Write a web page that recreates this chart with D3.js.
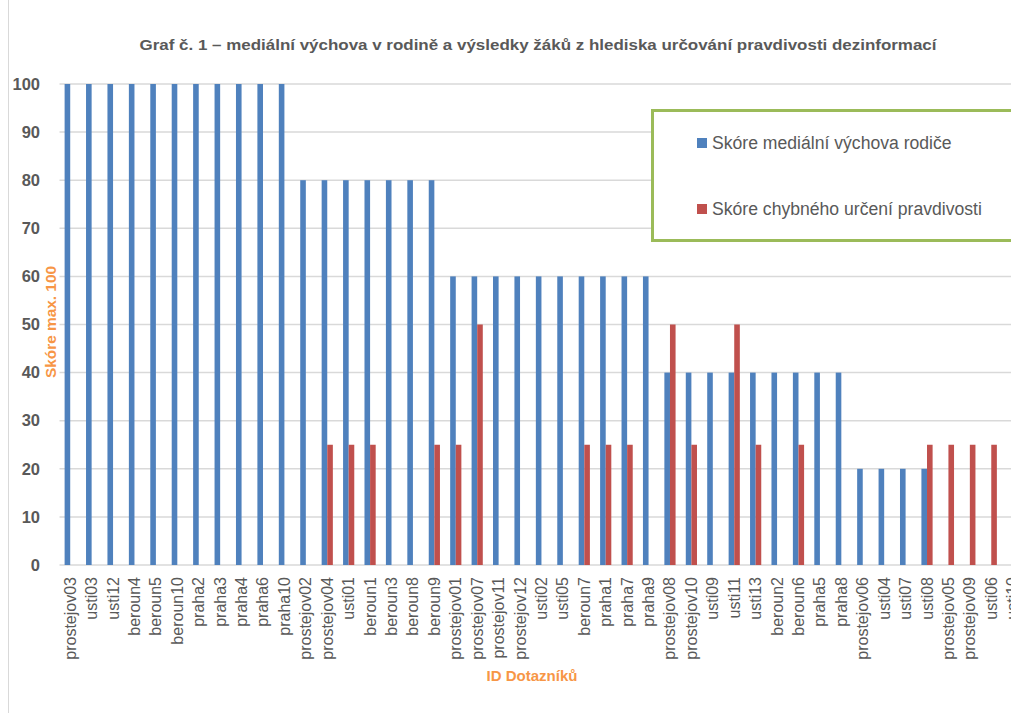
<!DOCTYPE html>
<html><head><meta charset="utf-8">
<script src="https://cdn.jsdelivr.net/npm/d3@7"></script>
<style>
html,body{margin:0;padding:0;background:#fff;}
svg{display:block;font-family:"Liberation Sans",Arial,sans-serif;}
</style></head>
<body>
<svg id="chart" width="1011" height="713"></svg>
<script>
const categories = ["prostejov03","usti03","usti12","beroun4","beroun5","beroun10","praha2","praha3","praha4","praha6","praha10","prostejov02","prostejov04","usti01","beroun1","beroun3","beroun8","beroun9","prostejov01","prostejov07","prostejov11","prostejov12","usti02","usti05","beroun7","praha1","praha7","praha9","prostejov08","prostejov10","usti09","usti11","usti13","beroun2","beroun6","praha5","praha8","prostejov06","usti04","usti07","usti08","prostejov05","prostejov09","usti06","usti10"];
const parentScores = [100,100,100,100,100,100,100,100,100,100,100,80,80,80,80,80,80,80,60,60,60,60,60,60,60,60,60,60,40,40,40,40,40,40,40,40,40,20,20,20,20,0,0,0,0];
const errorScores  = [0,0,0,0,0,0,0,0,0,0,0,0,25,25,25,0,0,25,25,50,0,0,0,0,25,25,25,0,50,25,0,50,25,0,25,0,0,0,0,0,25,25,25,25,25];
const seriesNames = ["Skóre mediální výchova rodiče","Skóre chybného určení pravdivosti"];
const yTicks = [0,10,20,30,40,50,60,70,80,90,100];
const titleText = "Graf č. 1 – mediální výchova v rodině a výsledky žáků z hlediska určování pravdivosti dezinformací";
const yTitle = "Skóre max. 100";
const xTitle = "ID Dotazníků";
const colors = ["#4F81BD","#C0504D"];

const svg = d3.select("#chart");
const plotLeft = 59.5, band = 21.42, plotTop = 84, plotBottom = 565;
const x0 = d3.scaleBand().domain(categories).range([plotLeft, plotLeft + band*categories.length]).padding(0);
const gw = 11.2;
const x1 = d3.scaleBand().domain([0,1]).range([(x0.bandwidth()-gw)/2,(x0.bandwidth()+gw)/2]);
const y = d3.scaleLinear().domain([0,100]).range([plotBottom, plotTop]);

// chart border line on left
svg.append("line").attr("x1",8.5).attr("x2",8.5).attr("y1",0).attr("y2",713).attr("stroke","#D9D9D9").attr("stroke-width",1);

// gridlines
svg.append("g").selectAll("line").data(yTicks).join("line")
  .attr("x1",plotLeft).attr("x2",1011).attr("y1",d=>y(d)).attr("y2",d=>y(d))
  .attr("stroke","#D9D9D9").attr("stroke-width",1.5);

// y axis labels
svg.append("g").selectAll("text").data(yTicks).join("text")
  .attr("x",40).attr("y",d=>y(d)).attr("dy","0.35em").attr("text-anchor","end")
  .attr("font-size",16.5).attr("font-weight","bold").attr("fill","#595959").text(d=>d);

// bars
const series = [parentScores, errorScores];
series.forEach((vals,si)=>{
  svg.append("g").selectAll("rect").data(categories).join("rect")
    .attr("x",(c)=>x0(c)+x1(si))
    .attr("width",x1.bandwidth())
    .attr("y",(c,i)=>y(vals[i]))
    .attr("height",(c,i)=>y(0)-y(vals[i]))
    .attr("fill",colors[si]);
});

// x axis labels
const xl = svg.append("g");
categories.forEach(c=>{
  const cx = x0(c)+x0.bandwidth()/2;
  xl.append("text").attr("transform",`translate(${cx+5.5},577) rotate(-90)`)
    .attr("text-anchor","end").attr("font-size",16).attr("fill","#595959").text(c);
});

// title
svg.append("text").attr("x",538).attr("y",50).attr("text-anchor","middle")
  .attr("font-size",15).attr("font-weight","bold").attr("fill","#595959")
  .attr("textLength",797).attr("lengthAdjust","spacingAndGlyphs").text(titleText);

// axis titles
svg.append("text").attr("transform","translate(56,322) rotate(-90)").attr("text-anchor","middle")
  .attr("font-size",14).attr("font-weight","bold").attr("fill","#F79646")
  .attr("textLength",112).attr("lengthAdjust","spacingAndGlyphs").text(yTitle);
svg.append("text").attr("x",532).attr("y",681).attr("text-anchor","middle")
  .attr("font-size",15).attr("font-weight","bold").attr("fill","#F79646")
  .attr("textLength",91).attr("lengthAdjust","spacingAndGlyphs").text(xTitle);

// legend
svg.append("rect").attr("x",652.5).attr("y",110.5).attr("width",380).attr("height",130)
  .attr("fill","#fff").attr("stroke","#9BBB59").attr("stroke-width",3);
seriesNames.forEach((n,i)=>{
  const ly = i===0 ? 143 : 209;
  svg.append("rect").attr("x",697).attr("y",ly-5).attr("width",10).attr("height",10).attr("fill",colors[i]);
  svg.append("text").attr("x",712).attr("y",ly).attr("dy","0.35em")
    .attr("font-size",17.6).attr("fill","#595959").text(n);
});
</script>
</body></html>
